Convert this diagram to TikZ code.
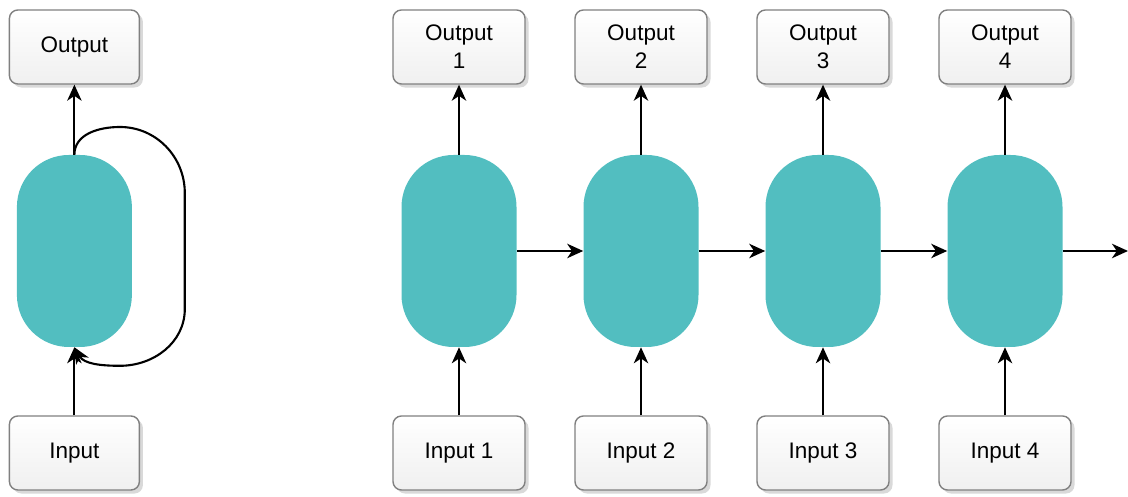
\documentclass[tikz,border=0pt]{standalone}
\usepackage{fontspec}
\setmainfont{Liberation Sans}
\usepackage{tikz}
\usetikzlibrary{arrows.meta,calc,positioning,shadows}
\definecolor{cellteal}{RGB}{82,190,192}
\definecolor{boxline}{RGB}{128,128,128}
\tikzset{box/.style={draw=boxline,line width=1pt,rounded corners=6pt,align=center,minimum width=3.3cm,minimum height=1.85cm,
    top color=white,bottom color=gray!12,drop shadow={shadow xshift=2.5pt,shadow yshift=-2.5pt,opacity=0.3,fill=gray},
    font=\fontsize{16}{20}\selectfont},
  cell/.style={fill=cellteal,draw=none,rounded corners=1.3cm,minimum width=2.875cm,minimum height=4.8cm,inner sep=0pt},
  arr/.style={-{Stealth[length=4mm,width=3.6mm,inset=1.2mm]},line width=1.5pt}}
\begin{document}
\begin{tikzpicture}
\useasboundingbox (0,0) rectangle (28.2,12.425);
% folded view
\node[cell] (cellL) at (1.86,6.15) {};
\node[box,minimum width=3.25cm] (outL) at (1.86,11.25) {Output};
\node[box,minimum width=3.25cm] (inL) at (1.86,1.1) {Input};
\draw[arr] (cellL.north) -- (outL.south);
\draw[arr] (inL.north) -- (cellL.south);
\draw[arr] (cellL.north) to[out=90,in=180] (3.0,9.25) to[out=0,in=90] (4.62,7.6) -- (4.62,4.7)
  to[out=-90,in=0] (3.0,3.28) to[out=180,in=-60] (cellL.south);
% unrolled view
\foreach \i/\x in {1/11.475,2/16.025,3/20.575,4/25.125}{
  \node[box] (out\i) at (\x,11.25) {Output\\\i};
  \node[cell] (cell\i) at (\x,6.15) {};
  \node[box] (in\i) at (\x,1.1) {Input \i};
  \draw[arr] (cell\i.north) -- (out\i.south);
  \draw[arr] (in\i.north) -- (cell\i.south);}
\coordinate (end) at (28.2,6.15);
\foreach \a/\b in {1/2,2/3,3/4}{\draw[arr] (cell\a.east) -- (cell\b.west);}
\draw[arr] (cell4.east) -- (end);
\end{tikzpicture}
\end{document}
